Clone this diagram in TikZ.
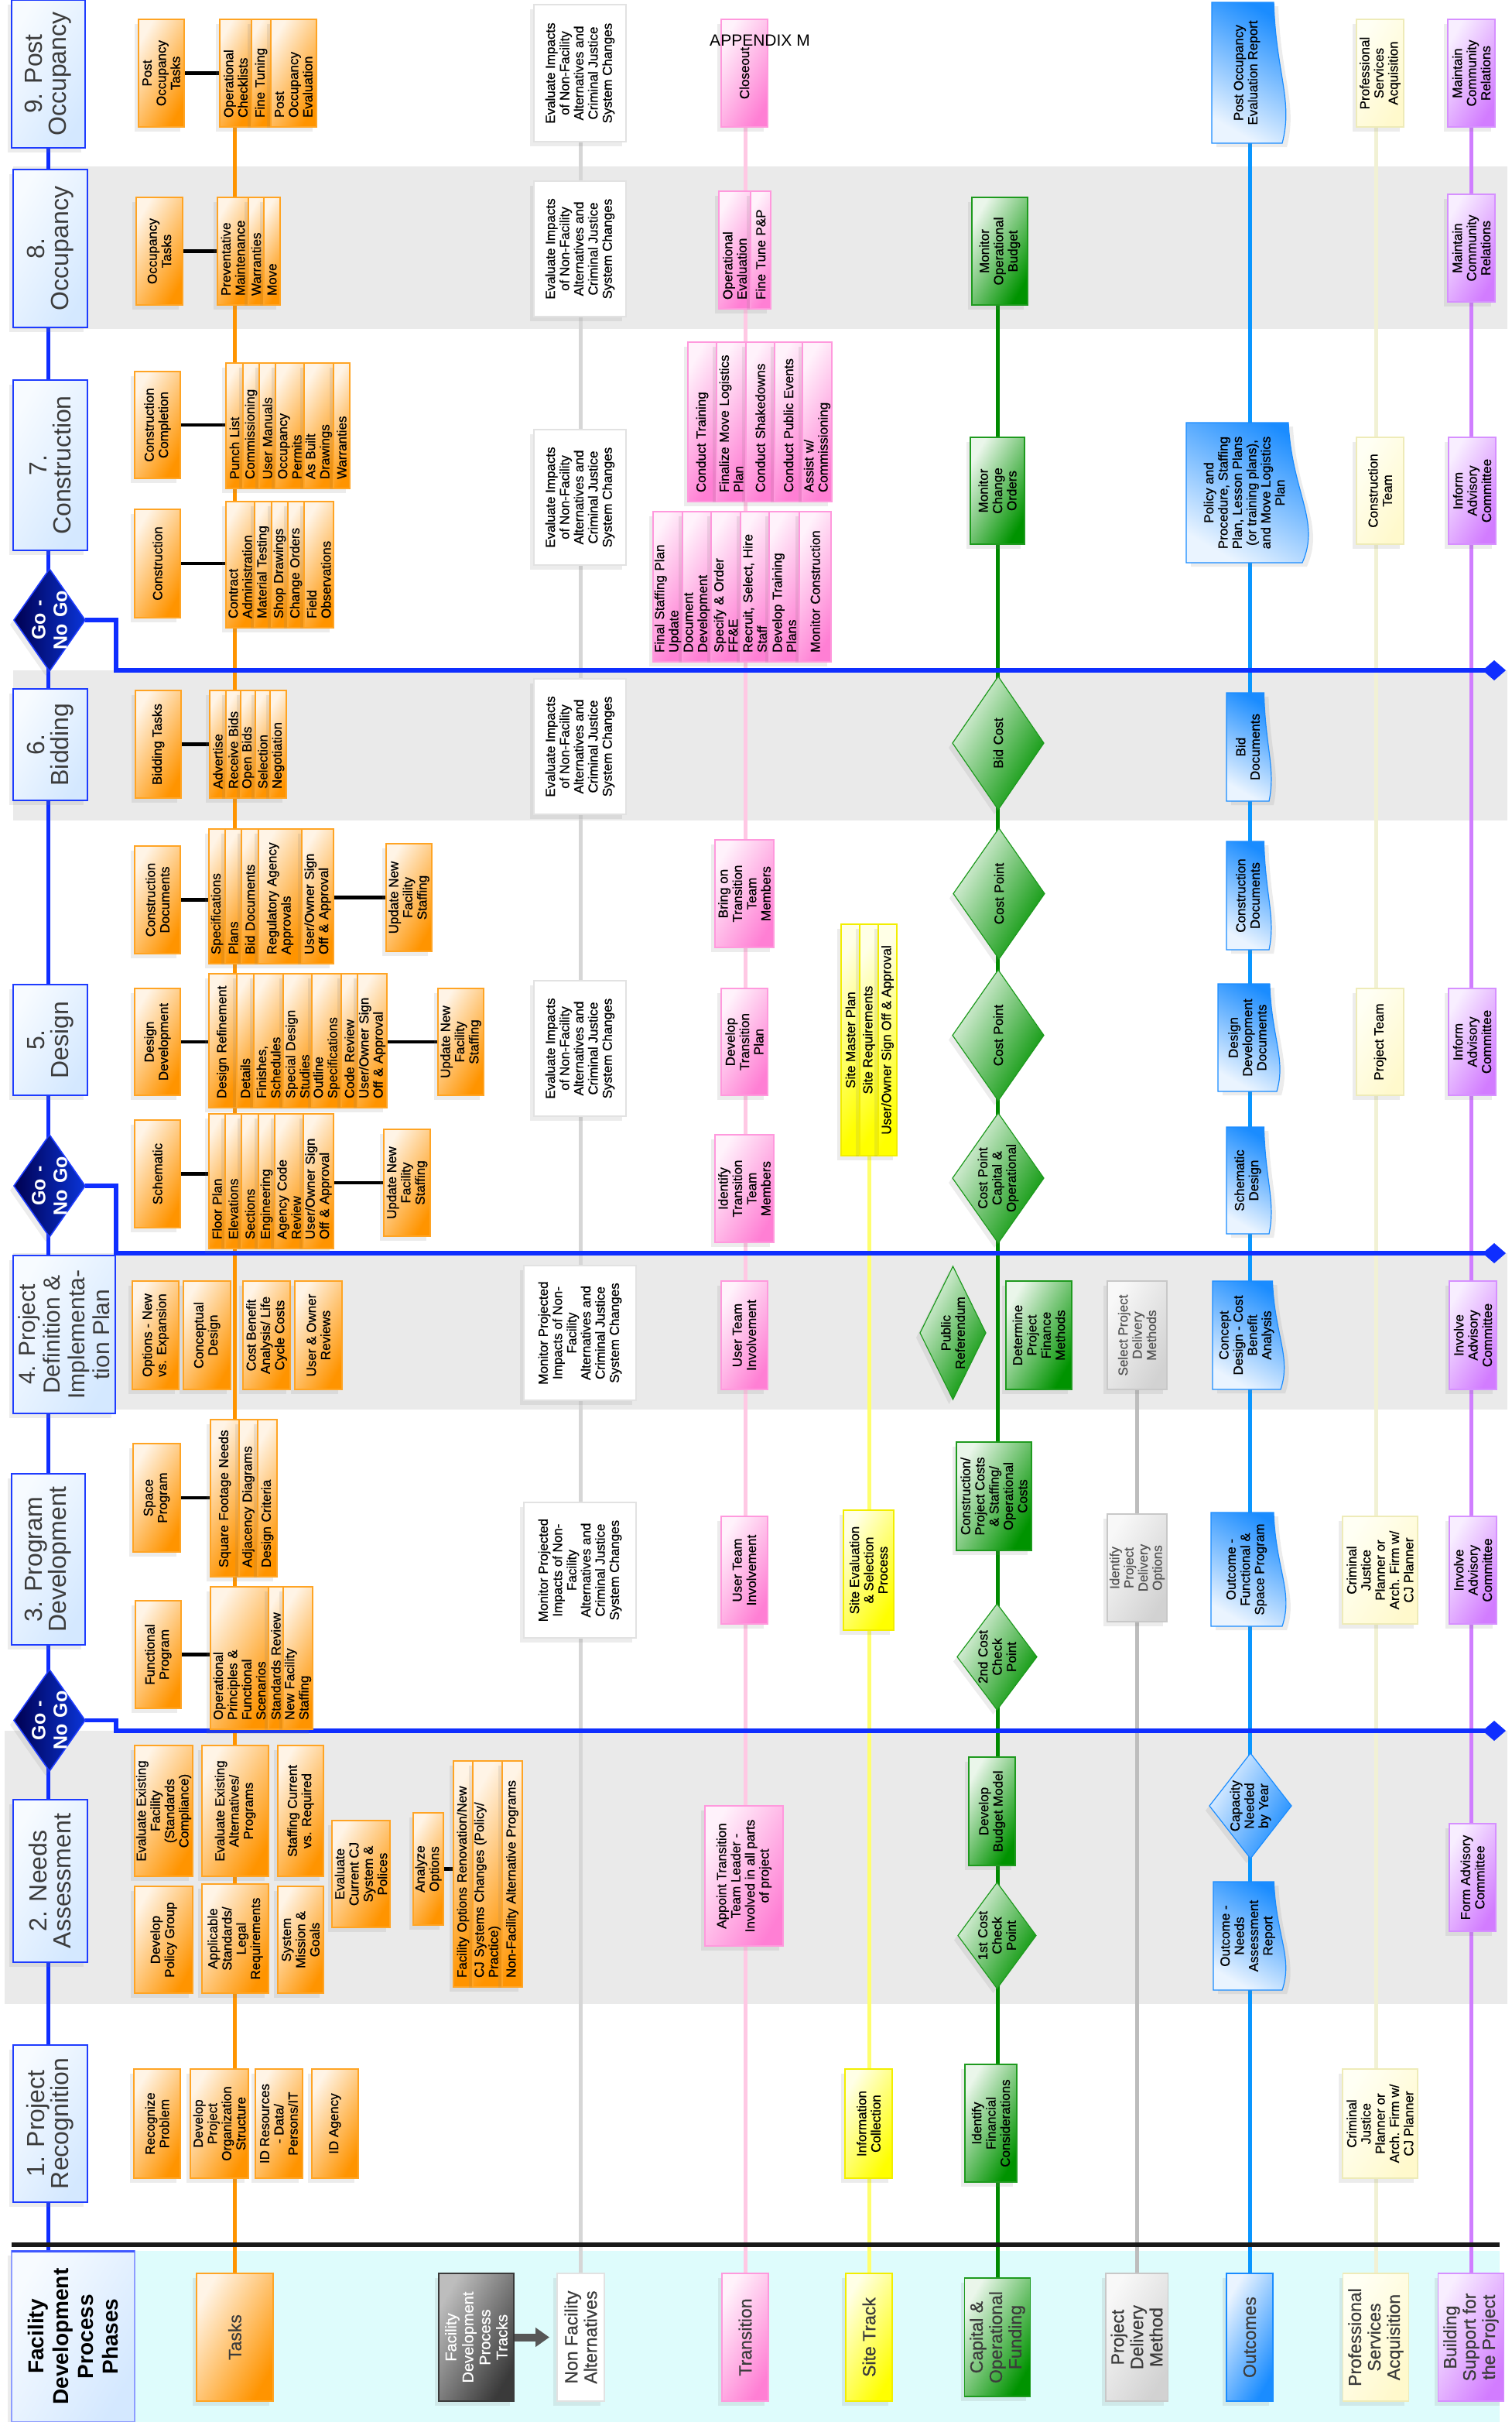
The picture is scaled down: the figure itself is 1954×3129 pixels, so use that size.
\documentclass[tikz,border=0pt]{standalone}
\usepackage{fontspec}
\setmainfont{Liberation Sans}
\newfontfamily\cellfont[FakeBold=0.7]{Liberation Sans}
\usetikzlibrary{shapes.geometric,arrows.meta,shadows,calc}

\definecolor{tskO}{HTML}{FF9400}
\definecolor{tskL}{HTML}{FFF4E6}
\definecolor{tskB}{HTML}{FFA424}
\definecolor{trnP}{HTML}{FF7FD4}
\definecolor{trnL}{HTML}{FFF2FB}
\definecolor{trnB}{HTML}{FF99DD}
\definecolor{trnLine}{HTML}{FFC8E4}
\definecolor{siteY}{HTML}{FFFF00}
\definecolor{siteL}{HTML}{FFFFE6}
\definecolor{siteB}{HTML}{F2EE00}
\definecolor{siteLine}{HTML}{FFFF6E}
\definecolor{fndG}{HTML}{009300}
\definecolor{fndL}{HTML}{EAF6EA}
\definecolor{fndB}{HTML}{1E9A1E}
\definecolor{fndLine}{HTML}{008A00}
\definecolor{pdG}{HTML}{D2D2D2}
\definecolor{pdL}{HTML}{F8F8F8}
\definecolor{pdB}{HTML}{C8C8C8}
\definecolor{pdT}{HTML}{555555}
\definecolor{pdLine}{HTML}{BDBDBD}
\definecolor{outB}{HTML}{1A8CFF}
\definecolor{outL}{HTML}{EAF4FF}
\definecolor{outLine}{HTML}{0A96FF}
\definecolor{psY}{HTML}{FFF9CC}
\definecolor{psL}{HTML}{FFFFF4}
\definecolor{psB}{HTML}{EEEBB8}
\definecolor{psLine}{HTML}{F1F1D4}
\definecolor{bsV}{HTML}{D27CFF}
\definecolor{bsL}{HTML}{F8EEFF}
\definecolor{bsB}{HTML}{D690FF}
\definecolor{bsLine}{HTML}{D07EFF}
\definecolor{nfLine}{HTML}{D6D6D6}
\definecolor{nfB}{HTML}{E2E2E2}
\definecolor{phB}{HTML}{1E3CFF}
\definecolor{phD}{HTML}{D4E8FF}
\definecolor{phL}{HTML}{F7FBFF}
\definecolor{gngD}{HTML}{000050}
\definecolor{gngT}{HTML}{0A34D8}
\definecolor{goBlue}{HTML}{0F2EFF}
\definecolor{band}{HTML}{EAEAEA}
\definecolor{hdrBg}{HTML}{DEFCFC}
\definecolor{txtGray}{HTML}{3C3C3C}
\definecolor{trkD}{HTML}{3A3A3A}
\definecolor{trkL}{HTML}{BDBDBD}

\pgfdeclarelayer{bands}
\pgfdeclarelayer{lanes}
\pgfdeclarelayer{docs}
\pgfsetlayers{bands,lanes,docs,main}

\tikzset{
  spans/.style args={#1/#2/#3/#4}{at={({(#1+#3)/2},{(#2+#4)/2})},
    minimum height={(#3-#1)*0.5pt}, minimum width={(#4-#2)*0.5pt}},
  col/.style args={#1/#2/#3/#4}{spans={#1/#2/#3/#4}, inner ysep=0pt,
    /utils/exec={\pgfmathsetlengthmacro\colw{(#4-#2-24)*0.5pt}},
    text width=\colw, align=left},
  grad/.style 2 args={top color=#1, bottom color=#2, shading angle=-120},
  shad/.style={drop shadow={shadow xshift=-2.5pt, shadow yshift=-3pt, opacity=0.15}},
  dshad/.style={drop shadow={shadow xshift=3pt, shadow yshift=-2.5pt, opacity=0.15}},
  cell/.style={rotate=90, inner sep=1pt, align=center, line width=0.6pt,
    font=\cellfont\fontsize{8.5}{9.2}\selectfont, shad},
  task/.style={cell, draw=tskB, grad={tskO}{tskL}},
  trans/.style={cell, draw=trnB, grad={trnP}{trnL}},
  site/.style={cell, draw=siteB, grad={siteY}{siteL}},
  fund/.style={cell, draw=fndB, grad={fndG}{fndL}},
  deliv/.style={cell, draw=pdB, grad={pdG}{pdL}, text=pdT},
  prof/.style={cell, draw=psB, grad={psY}{psL}},
  supp/.style={cell, draw=bsB, grad={bsV}{bsL}},
  nonfac/.style={cell, draw=nfB, fill=white},
  outc/.style={rotate=90, inner sep=1pt, align=center, font=\cellfont\fontsize{8.5}{9.2}\selectfont},
  docfill/.style={draw=outB, line width=0.6pt, top color=outB, bottom color=outL,
    shading angle=-30, dshad},
  dia/.style={diamond, inner sep=0pt},
  dlabel/.style={rotate=90, align=center, text width=70pt, font=\cellfont\fontsize{8.5}{9.2}\selectfont},
  phase/.style={cell, draw=phB, line width=0.8pt, grad={phD}{phL}, text=txtGray,
    font=\fontsize{16}{15.5}\selectfont},
  gonogo/.style={cell, dia, draw=phB, line width=0.8pt, top color=gngT, bottom color=gngD,
    shading angle=-90},
  golabel/.style={rotate=90, align=center, text width=50pt, text=white,
    font=\bfseries\fontsize{12.5}{14}\selectfont},
  lanehdr/.style={rotate=90, align=center, line width=0.6pt, text=txtGray,
    font=\cellfont\fontsize{11.5}{12.5}\selectfont, shad},
  lane/.style={line width=2.5pt},
  link/.style={line width=2.3pt, black},
  spine/.style={line width=2.7pt, goBlue},
  goline/.style={line width=2.6pt, goBlue, -{Diamond[length=15pt, width=13pt]}},
  fatarrow/.style={line width=5pt, trkD!85, -{Triangle[length=9pt, width=12pt]}, shorten >=5pt},
}

% outcome documents: wavy right edge drawn behind the text node
\newcommand\docshape[1]{%
  \begin{pgfonlayer}{docs}
    \path[docfill] let \p1=(#1.north west), \p2=(#1.south east),
      \n1={\x2-\x1}, \n2={\y2-\y1} in
      (\x1,\y1) -- (\x1,\y2) -- ({\x2-0.12*\n1},\y2)
      .. controls ({\x2-0.09*\n1},{\y2-0.5*\n2}) and ({\x2+0.16*\n1},{\y1+0.3*\n2}) .. (\x2,\y1) -- cycle;
  \end{pgfonlayer}}

\begin{document}
\begin{tikzpicture}[x=0.5pt, y=-0.5pt, every node/.style={outer sep=0pt}]
\useasboundingbox (0,0) rectangle (1954,3129);

\begin{pgfonlayer}{bands}
  \foreach \a/\b in {215/425, 866/1060, 1619/1821}
    \fill[band] (17,\a) rectangle (1948,\b);
  \fill[band] (6,2236) rectangle (1948,2589);
  \fill[hdrBg] (15,2908) rectangle (1938,3129);
\end{pgfonlayer}

% phases
\node[phase, spans=15/0/110/191] (ph9) {9. Post\\Occupancy};
\node[phase, spans=17/219/113/423] (ph8) {8.\\Occupancy};
\node[phase, spans=17/491/113/711] (ph7) {7.\\Construction};
\node[gonogo, spans=18/735/110/867, label={[golabel]center:{Go -\\No Go}}] (gng1) {};
\node[phase, spans=17/890/113/1034] (ph6) {6.\\Bidding};
\node[phase, spans=17/1272/113/1415] (ph5) {5.\\Design};
\node[gonogo, spans=18/1466/110/1598, label={[golabel]center:{Go -\\No Go}}] (gng2) {};
\node[phase, spans=17/1622/149/1826, font=\fontsize{15}{16}\selectfont] (ph4) {4. Project\\Definition \&\\Implementa-\\tion Plan};
\node[phase, spans=15/1904/110/2125] (ph3) {3. Program\\Development};
\node[gonogo, spans=18/2157/110/2288, label={[golabel]center:{Go -\\No Go}}] (gng3) {};
\node[phase, spans=17/2325/113/2535] (ph2) {2. Needs\\Assessment};
\node[phase, spans=17/2642/113/2845] (ph1) {1. Project\\Recognition};

% tasks
\node[task, spans=179/25/238/164] (pot) {Post\\Occupancy\\Tasks};
\foreach \a/\b/\lb [count=\k] in {284/325/{Operational\\Checklists}, 325/350/{Fine Tuning}, 350/409/{Post\\Occupancy\\Evaluation}}
  \node[task, col={\a/25/\b/164}] (c9-\k) {\lb};
\node[task, spans=176/255/236/394] (oct) {Occupancy\\Tasks};
\foreach \a/\b/\lb [count=\k] in {281/321/{Preventative\\Maintenance}, 321/341/{Warranties}, 341/362/{Move}}
  \node[task, col={\a/255/\b/394}] (c8-\k) {\lb};
\node[task, spans=174/480/233/618] (ccm) {Construction\\Completion};
\foreach \a/\b/\lb [count=\k] in {292/314/{Punch List}, 314/335/{Commissioning}, 335/356/{User Manuals}, 356/393/{Occupancy\\Permits}, 393/431/{As Built\\Drawings}, 431/452/{Warranties}}
  \node[task, col={\a/469/\b/631}] (c7a-\k) {\lb};
\node[task, spans=174/658/233/798] (cst) {Construction};
\foreach \a/\b/\lb [count=\k] in {292/329/{Contract\\Administration}, 329/351/{Material Testing}, 351/372/{Shop Drawings}, 372/393/{Change Orders}, 393/431/{Field\\Observations}}
  \node[task, col={\a/648/\b/811}] (c7b-\k) {\lb};
\node[task, spans=175/892/234/1031] (bdt) {Bidding Tasks};
\foreach \a/\b/\lb [count=\k] in {271/292/{Advertise}, 292/311/{Receive Bids}, 311/330/{Open Bids}, 330/349/{Selection}, 349/370/{Negotiation}}
  \node[task, col={\a/892/\b/1031}] (c6-\k) {\lb};
\node[task, spans=174/1093/233/1232] (cdc) {Construction\\Documents};
\foreach \a/\b/\lb [count=\k] in {270/291/{Specifications}, 291/312/{Plans}, 312/334/{Bid Documents}, 334/390/{Regulatory Agency\\Approvals}, 390/431/{User/Owner Sign\\Off \& Approval}}
  \node[task, col={\a/1071/\b/1245}] (c5a-\k) {\lb};
\node[task, spans=499/1090/558/1229] (up1) {Update New\\Facility\\Staffing};
\node[task, spans=174/1277/233/1415] (ddv) {Design\\Development};
\foreach \a/\b/\lb [count=\k] in {270/306/{Design Refinement}, 306/328/{Details}, 328/366/{Finishes,\\Schedules}, 366/403/{Special Design\\Studies}, 403/441/{Outline\\Specifications}, 441/462/{Code Review}, 462/500/{User/Owner Sign\\Off \& Approval}}
  \node[task, col={\a/1258/\b/1431}] (c5b-\k) {\lb};
\node[task, spans=566/1277/625/1415] (up2) {Update New\\Facility\\Staffing};
\node[task, spans=174/1447/233/1586] (sch) {Schematic};
\foreach \a/\b/\lb [count=\k] in {270/291/{Floor Plan}, 291/312/{Elevations}, 312/334/{Sections}, 334/355/{Engineering}, 355/392/{Agency Code\\Review}, 392/431/{User/Owner Sign\\Off \& Approval}}
  \node[task, col={\a/1439/\b/1613}] (c5c-\k) {\lb};
\node[task, spans=496/1459/556/1597] (up3) {Update New\\Facility\\Staffing};
\node[task, spans=171/1655/231/1795] (opt) {Options - New\\vs. Expansion};
\node[task, spans=237/1655/298/1795] (cnd) {Conceptual\\Design};
\node[task, spans=314/1655/375/1795] (cba) {Cost Benefit\\Analysis/ Life\\Cycle Costs};
\node[task, spans=381/1655/442/1795] (uor) {User \& Owner\\Reviews};
\node[task, spans=172/1865/233/2005] (spg) {Space\\Program};
\foreach \a/\b/\lb [count=\k] in {272/309/{Square Footage Needs}, 309/333/{Adjacency Diagrams}, 333/358/{Design Criteria}}
  \node[task, col={\a/1834/\b/2037}] (c3a-\k) {\lb};
\node[task, spans=175/2068/234/2207] (fpg) {Functional\\Program};
\foreach \a/\b/\lb [count=\k] in {272/347/{Operational\\Principles \&\\Functional\\Scenarios}, 347/366/{Standards Review}, 366/404/{New Facility\\Staffing}}
  \node[task, col={\a/2050/\b/2234}] (c3b-\k) {\lb};
\node[task, spans=174/2255/249/2424] (eef) {Evaluate Existing\\Facility\\(Standards\\Compliance)};
\node[task, spans=261/2255/347/2424] (eea) {Evaluate Existing\\Alternatives/\\Programs};
\node[task, spans=359/2255/418/2424] (scr) {Staffing Current\\vs. Required};
\node[task, spans=174/2437/249/2575] (dpg) {Develop\\Policy Group};
\node[task, spans=261/2434/347/2575] (asl) {Applicable\\Standards/\\Legal\\Requirements};
\node[task, spans=359/2437/418/2575] (smg) {System\\Mission \&\\Goals};
\node[task, spans=429/2352/504/2490] (ecj) {Evaluate\\Current CJ\\System \&\\Polices};
\node[task, spans=534/2342/573/2487] (aop) {Analyze\\Options};
\foreach \a/\b/\lb [count=\k] in {586/611/{Facility Options Renovation/New}, 611/649/{CJ Systems Changes (Policy/\\Practice)}, 649/675/{Non-Facility Alternative Programs}}
  \node[task, col={\a/2275/\b/2567}] (c2-\k) {\lb};
\node[task, spans=173/2673/233/2814] (rpb) {Recognize\\Problem};
\node[task, spans=246/2673/321/2814] (dpo) {Develop\\Project\\Organization\\Structure};
\node[task, spans=330/2673/391/2814] (idr) {ID Resources\\- Data/\\Persons/IT};
\node[task, spans=403/2673/463/2814] (ida) {ID Agency};

% non facility alternatives
\foreach \i/\a/\b in {9/6/183, 8/234/409, 7/555/730, 6/877/1052, 5/1267/1442}
  \node[nonfac, spans=690/\a/809/\b] (nf\i) {Evaluate Impacts\\of Non-Facility\\Alternatives and\\Criminal Justice\\System Changes};
\foreach \i/\a/\b in {4/1635/1809, 3/1941/2116}
  \node[nonfac, spans=677/\a/822/\b] (nf\i) {Monitor Projected\\Impacts of Non-\\Facility\\Alternatives and\\Criminal Justice\\System Changes};

% transition
\node[trans, spans=932/25/992/164] (clo) {Closeout};
\node[font=\fontsize{10.5}{12}\selectfont] (appx) at (982,52) {APPENDIX M};
\foreach \a/\b/\lb [count=\k] in {929/970/{Operational\\Evaluation}, 970/996/{Fine Tune P\&P}}
  \node[trans, col={\a/247/\b/399}] (t8-\k) {\lb};
\foreach \a/\b/\lb [count=\k] in {889/926/{Conduct Training}, 926/964/{Finalize Move Logistics\\Plan}, 964/1001/{Conduct Shakedowns}, 1001/1037/{Conduct Public Events}, 1037/1075/{Assist w/\\Commissioning}}
  \node[trans, col={\a/442/\b/648}] (t7a-\k) {\lb};
\foreach \a/\b/\lb [count=\k] in {844/882/{Final Staffing Plan\\Update}, 882/919/{Document\\Development}, 919/957/{Specify \& Order\\FF\&E}, 957/994/{Recruit, Select, Hire\\Staff}, 994/1033/{Develop Training\\Plans}, 1033/1074/{Monitor Construction}}
  \node[trans, col={\a/661/\b/855}] (t7b-\k) {\lb};
\node[trans, spans=924/1085/1000/1224] (bot) {Bring on\\Transition\\Team\\Members};
\node[trans, spans=932/1277/992/1415] (dtp) {Develop\\Transition\\Plan};
\node[trans, spans=924/1466/1000/1605] (itt) {Identify\\Transition\\Team\\Members};
\node[trans, spans=932/1655/992/1795] (ut4) {User Team\\Involvement};
\node[trans, spans=932/1959/992/2098] (ut3) {User Team\\Involvement};
\node[trans, spans=911/2333/1012/2514] (att) {Appoint Transition\\Team Leader -\\Involved in all parts\\of project};

% site track
\foreach \a/\b/\lb [count=\k] in {1087/1111/{Site Master Plan}, 1111/1135/{Site Requirements}, 1135/1159/{User/Owner Sign Off \& Approval}}
  \node[site, inner ysep=0pt, spans={\a/1194/\b/1493}] (s5-\k) {\lb};
\node[site, spans=1090/1951/1155/2106] (sev) {Site Evaluation\\\& Selection\\Process};
\node[site, spans=1092/2673/1153/2814] (inf) {Information\\Collection};

% capital and operational funding
\node[fund, spans=1256/255/1328/394] (mob) {Monitor\\Operational\\Budget};
\node[fund, spans=1254/565/1324/703] (mco) {Monitor\\Change\\Orders};
\node[fund, dia, spans=1231/874/1349/1046, label={[dlabel]center:{Bid Cost}}] (bcd) {};
\node[fund, dia, spans=1232/1070/1350/1239, label={[dlabel]center:{Cost Point}}] (cp1) {};
\node[fund, dia, spans=1231/1253/1349/1422, label={[dlabel]center:{Cost Point}}] (cp2) {};
\node[fund, dia, spans=1231/1438/1349/1606, label={[dlabel]center:{Cost Point\\Capital \&\\Operational}}] (cp3) {};
\node[fund, dia, spans=1189/1636/1274/1808, label={[dlabel]center:{Public\\Referendum}}] (pref) {};
\node[fund, spans=1300/1655/1385/1795] (dpf) {Determine\\Project\\Finance\\Methods};
\node[fund, spans=1236/1863/1333/2003] (cpc) {Construction/\\Project Costs\\\& Staffing/\\Operational\\Costs};
\node[fund, dia, spans=1237/2072/1340/2209, label={[dlabel]center:{2nd Cost\\Check\\Point}}] (cc2) {};
\node[fund, spans=1252/2270/1312/2410] (dbm) {Develop\\Budget Model};
\node[fund, dia, spans=1238/2432/1339/2569, label={[dlabel]center:{1st Cost\\Check\\Point}}] (cc1) {};
\node[fund, spans=1247/2667/1314/2819] (ifc) {Identify\\Financial\\Considerations};

% project delivery method
\node[deliv, spans=1431/1655/1508/1795] (spd) {Select Project\\Delivery\\Methods};
\node[deliv, spans=1431/1956/1508/2095] (ipd) {Identify\\Project\\Delivery\\Options};

% outcomes
\node[outc, spans=1566/3/1657/185] (poe) {Post Occupancy\\Evaluation Report};
\node[outc, spans=1533/546/1683/727] (ppd) {Policy and\\Procedure, Staffing\\Plan, Lesson Plans\\(or training plans),\\and Move Logistics\\Plan};
\node[outc, spans=1585/895/1640/1035] (bdd) {Bid\\Documents};
\node[outc, spans=1585/1087/1640/1227] (cdd) {Construction\\Documents};
\node[outc, spans=1574/1271/1650/1410] (ddd) {Design\\Development\\Documents};
\node[outc, spans=1585/1456/1640/1594] (sdd) {Schematic\\Design};
\node[outc, spans=1567/1655/1655/1795] (cdb) {Concept\\Design - Cost\\Benefit\\Analysis};
\node[outc, spans=1565/1954/1657/2101] (ofs) {Outcome -\\Functional \&\\Space Program};
\node[cell, dia, draw=outB, grad={outB}{outL}, spans=1563/2265/1669/2401, label={[dlabel]center:{Capacity\\Needed\\by Year}}] (cap) {};
\node[outc, spans=1568/2431/1657/2571] (ona) {Outcome -\\Needs\\Assessment\\Report};
\foreach \d in {poe,ppd,bdd,cdd,ddd,sdd,cdb,ofs,ona}
  \docshape{\d};

% professional services
\node[prof, spans=1753/25/1814/164] (psa) {Professional\\Services\\Acquisition};
\node[prof, spans=1753/565/1814/703] (ctm) {Construction\\Team};
\node[prof, spans=1753/1277/1814/1415] (ptm) {Project Team};
\foreach \i/\a/\b in {3/1959/2098, 1/2673/2814}
  \node[prof, spans=1735/\a/1832/\b] (cjp\i) {Criminal\\Justice\\Planner or\\Arch. Firm w/\\CJ Planner};

% building support
\foreach \nm/\a/\b in {mcr9/25/164, mcr8/251/390}
  \node[supp, spans=1871/\a/1932/\b] (\nm) {Maintain\\Community\\Relations};
\foreach \nm/\a/\b in {iac7/565/703, iac5/1277/1415}
  \node[supp, spans=1872/\a/1933/\b] (\nm) {Inform\\Advisory\\Committee};
\foreach \nm/\a/\b in {inv4/1655/1795, inv3/1959/2098}
  \node[supp, spans=1873/\a/1934/\b] (\nm) {Involve\\Advisory\\Committee};
\node[supp, spans=1873/2356/1933/2495] (fac) {Form Advisory\\Committee};

% track headers
\node[lanehdr, draw=phB!50, grad={phD}{phL}, text=black, font=\bfseries\fontsize{14}{16}\selectfont, spans=15/2908/174/3129] (fdp) {Facility\\Development\\Process\\Phases};
\draw[goBlue!80, line width=1.5pt] (fdp.north east) -- (fdp.south east);
\node[lanehdr, draw=tskB, grad={tskO}{tskL}, spans=254/2937/353/3102] (tsh) {Tasks};
\node[lanehdr, draw=trkD, grad={trkD}{trkL}, text=white, font=\cellfont\fontsize{10}{11}\selectfont, spans=567/2937/664/3102] (fdt) {Facility\\Development\\Process\\Tracks};
\node[lanehdr, draw=nfB, fill=white, spans=720/2937/781/3102] (nfh) {Non Facility\\Alternatives};
\node[lanehdr, draw=trnB, grad={trnP}{trnL}, spans=933/2937/993/3102] (trh) {Transition};
\node[lanehdr, draw=siteB, grad={siteY}{siteL}, spans=1093/2937/1153/3102] (sth) {Site Track};
\node[lanehdr, draw=fndB, grad={fndG}{fndL}, spans=1251/2943/1327/3096] (fuh) {Capital \&\\Operational\\Funding};
\node[lanehdr, draw=pdB, grad={pdG}{pdL}, spans=1433/2937/1505/3102] (pdh) {Project\\Delivery\\Method};
\node[lanehdr, draw=outB, grad={outB}{outL}, spans=1585/2937/1645/3102] (ouh) {Outcomes};
\node[lanehdr, draw=psB, grad={psY}{psL}, spans=1737/2937/1819/3102] (psh) {Professional\\Services\\Acquisition};
\node[lanehdr, draw=bsB, grad={bsV}{bsL}, spans=1863/2937/1939/3102] (bsh) {Building\\Support for\\the Project};

\begin{pgfonlayer}{lanes}
  % track lines
  \draw[spine] (fdp.east -| ph9) -- (ph9);
  \draw[lane, tskO] (tsh) -- (tsh |- c9-1);
  \draw[lane, nfLine] (nfh) -- (nfh |- nf9);
  \draw[lane, trnLine] (trh) -- (trh |- clo);
  \draw[lane, siteLine] (sth) -- (sth |- s5-2);
  \draw[lane, fndLine] (fuh) -- (fuh |- mob);
  \draw[lane, pdLine] (pdh) -- (pdh |- spd);
  \draw[lane, outLine] (ouh) -- (ouh |- poe);
  \draw[lane, psLine] (psh) -- (psh |- psa);
  \draw[lane, bsLine] (bsh) -- (bsh |- mcr9);
  % task links
  \draw[link] (pot) -- (pot -| c9-1.north);
  \draw[link] (oct) -- (oct -| c8-1.north);
  \draw[link] (ccm) -- (ccm -| c7a-1.north);
  \draw[link] (cst) -- (cst -| c7b-1.north);
  \draw[link] (bdt) -- (bdt -| c6-1.north);
  \draw[link] (cdc) -- (cdc -| c5a-1.north);
  \draw[link] (up1) -- (up1 -| c5a-5.south);
  \draw[link] (ddv) -- (ddv -| c5b-1.north);
  \draw[link] (up2) -- (up2 -| c5b-7.south);
  \draw[link] (sch) -- (sch -| c5c-1.north);
  \draw[link] (up3) -- (up3 -| c5c-6.south);
  \draw[link] (spg) -- (spg -| c3a-1.north);
  \draw[link] (fpg) -- (fpg -| c3b-1.north);
  \draw[link] (aop) -- (aop -| c2-1.north);
  % go / no go gates
  \coordinate (g1) at (1946,866);
  \coordinate (g2) at (1946,1619);
  \coordinate (g3) at (1946,2236);
  \draw[goline] (gng1.south) -- ++(40,0) |- (g1);
  \draw[goline] (gng2.south) -- ++(40,0) |- (g2);
  \draw[goline] (gng3.south) -- ++(40,0) |- (g3);
  \draw[line width=2.6pt, black!90] (15,2900) -- (1938,2900);
  \draw[fatarrow] (fdt) -- (nfh);
\end{pgfonlayer}
\end{tikzpicture}
\end{document}
